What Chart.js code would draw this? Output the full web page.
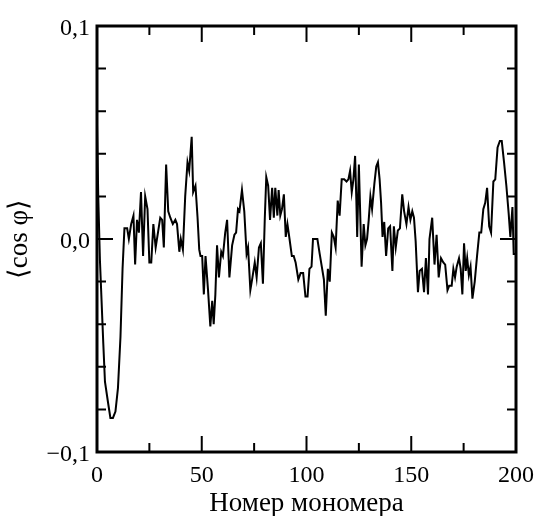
<!DOCTYPE html>
<html>
<head>
<meta charset="utf-8">
<script src="https://cdn.jsdelivr.net/npm/chart.js@4/dist/chart.umd.min.js"></script>
<style>
    html, body { margin: 0; padding: 0; background: #fff; }
    #wrap { width: 543px; height: 516px; }
</style>
</head>
<body>
<div id="wrap"><canvas id="cosChart"></canvas></div>
<script>
// Номер мономера (ось X)
const monomerIndex = [
    0, 0.6, 1.4, 3.0, 3.8, 5.3, 6.4, 7.6, 8.8, 10.0, 11.2, 12.2, 13.1, 14.4, 15.2, 16.3, 17.4, 18.2, 19.1, 20.0,
    21.0, 22.0, 23.0, 24.1, 25.0, 25.9, 26.9, 28.0, 29.1, 30.2, 31.1, 31.9, 33.0, 34.0, 35.0, 36.2, 37.4, 38.2, 39.3, 40.0,
    41.0, 42.1, 43.2, 44.0, 45.2, 45.9, 47.0, 48.0, 48.8, 49.4, 50.2, 51.0, 51.8, 53.0, 54.1, 55.0, 55.7, 56.5, 57.3, 58.2,
    59.3, 60.1, 61.2, 62.1, 63.2, 64.5, 65.6, 66.4, 67.3, 68.0, 69.2, 70.3, 71.4, 72.1, 73.2, 74.2, 75.3, 76.2, 77.3, 78.2,
    79.2, 80.1, 80.8, 81.7, 82.6, 83.6, 84.4, 85.1, 86.1, 86.7, 87.5, 88.3, 89.2, 90.1, 90.9, 91.9, 93.0, 93.9, 94.8, 96.1,
    97.2, 98.4, 99.5, 100.5, 101.4, 102.4, 103.1, 104.2, 105.2, 106.3, 107.3, 108.3, 109.2, 110.2, 111.1, 112.1, 113.0, 113.9, 114.9, 115.8,
    116.8, 118.0, 119.1, 120.0, 120.8, 121.6, 122.4, 123.2, 123.8, 124.2, 125.0, 125.8, 126.3, 127.3, 128.1, 128.9, 129.7, 130.5, 131.3, 132.4,
    133.3, 134.1, 134.9, 135.6, 136.3, 137.1, 138.0, 139.0, 139.9, 141.0, 141.7, 142.6, 143.6, 144.6, 145.7, 146.6, 147.7, 148.7, 149.6, 150.5,
    151.3, 152.1, 153.2, 154.0, 155.1, 156.1, 157.0, 158.0, 158.7, 160.0, 161.1, 162.1, 163.1, 164.2, 165.3, 166.2, 167.3, 168.1, 169.3, 170.1,
    170.9, 171.7, 172.8, 173.6, 174.4, 175.2, 176.0, 176.7, 177.5, 178.3, 179.2, 180.3, 181.4, 182.5, 183.4, 184.4, 185.3, 186.2, 187.2, 188.1,
    189.2, 190.1, 191.2, 192.3, 193.2, 194.3, 195.4, 196.5, 197.3, 198.3, 198.9, 200
];

// <cos φ>
const cosValues = [
    0.054, 0.020, -0.010, -0.049, -0.067, -0.077, -0.084, -0.084, -0.081, -0.070, -0.046, -0.014, 0.005, 0.005, 0.000, 0.007, 0.011, -0.012, 0.009, 0.003,
    0.022, -0.008, 0.020, 0.014, -0.011, -0.011, 0.007, -0.004, 0.003, 0.010, 0.009, -0.004, 0.035, 0.013, 0.010, 0.007, 0.009, 0.007, -0.006, 0.000,
    -0.005, 0.020, 0.036, 0.032, 0.048, 0.022, 0.025, 0.010, -0.005, -0.008, -0.008, -0.026, -0.008, -0.024, -0.041, -0.029, -0.040, -0.026, -0.003, -0.018,
    -0.006, -0.008, 0.003, 0.009, -0.018, -0.003, 0.002, 0.003, 0.014, 0.013, 0.023, 0.013, -0.007, -0.004, -0.024, -0.018, -0.011, -0.018, -0.004, -0.002,
    -0.021, 0.010, 0.029, 0.025, 0.009, 0.024, 0.010, 0.024, 0.011, 0.023, 0.011, 0.014, 0.021, 0.001, 0.007, 0.000, -0.008, -0.008, -0.011, -0.019,
    -0.016, -0.016, -0.027, -0.027, -0.014, -0.013, 0.000, 0.000, 0.000, -0.007, -0.013, -0.019, -0.036, -0.014, -0.020, 0.003, 0.001, -0.004, 0.018, 0.011,
    0.028, 0.028, 0.027, 0.028, 0.032, 0.022, 0.028, 0.039, 0.018, 0.001, 0.035, 0.006, -0.013, 0.007, -0.003, 0.000, 0.009, 0.020, 0.014, 0.026,
    0.034, 0.036, 0.028, 0.017, 0.001, 0.008, -0.008, 0.005, 0.006, -0.015, 0.006, -0.004, 0.004, 0.005, 0.021, 0.013, 0.007, 0.015, 0.009, 0.013,
    0.010, -0.001, -0.025, -0.015, -0.014, -0.025, -0.009, -0.026, 0.000, 0.010, -0.012, 0.002, -0.018, -0.009, -0.011, -0.012, -0.024, -0.022, -0.022, -0.014,
    -0.018, -0.013, -0.009, -0.014, -0.026, -0.002, -0.015, -0.009, -0.017, -0.013, -0.028, -0.020, -0.008, 0.003, 0.003, 0.014, 0.017, 0.024, 0.006, 0.003,
    0.027, 0.028, 0.043, 0.046, 0.046, 0.036, 0.025, 0.012, 0.001, 0.015, -0.007, -0.007
];

// Засечки внутрь рамки
const xMajorTicks = [50, 100, 150];
const xMinorTicks = [25, 75, 125, 175];
const yMajorTicks = [0];
const yMinorTicks = [-0.08, -0.06, -0.04, -0.02, 0.02, 0.04, 0.06, 0.08];

const serif = "'Liberation Serif', 'Times New Roman', serif";

// Рисует рамку и засечки на всех четырёх сторонах
const frameTicks = {
    id: 'frameTicks',
    afterDraw(chart) {
        const { ctx, chartArea: a, scales: { x, y } } = chart;
        ctx.save();
        ctx.strokeStyle = '#000';
        ctx.lineWidth = 2;
        ctx.beginPath();
        const xTick = (v, len) => {
            const px = x.getPixelForValue(v);
            ctx.moveTo(px, a.bottom); ctx.lineTo(px, a.bottom - len);
            ctx.moveTo(px, a.top); ctx.lineTo(px, a.top + len);
        };
        const yTick = (v, len) => {
            const py = y.getPixelForValue(v);
            ctx.moveTo(a.left, py); ctx.lineTo(a.left + len, py);
            ctx.moveTo(a.right, py); ctx.lineTo(a.right - len, py);
        };
        xMajorTicks.forEach(v => xTick(v, 16));
        xMinorTicks.forEach(v => xTick(v, 9));
        yMajorTicks.forEach(v => yTick(v, 16));
        yMinorTicks.forEach(v => yTick(v, 9));
        ctx.stroke();
        ctx.lineWidth = 3;
        ctx.strokeRect(a.left, a.top, a.right - a.left, a.bottom - a.top);
        ctx.restore();
    }
};

const formatTick = v => {
    if (Math.abs(v) < 1e-9) return '0,0';
    return (v < 0 ? '\u2212' : '') + Math.abs(v).toFixed(1).replace('.', ',');
};

new Chart(document.getElementById('cosChart'), {
    type: 'line',
    data: {
        datasets: [{
            data: monomerIndex.map((m, i) => ({ x: m, y: cosValues[i] })),
            borderColor: '#000',
            borderWidth: 2,
            pointRadius: 0,
            tension: 0,
            fill: false
        }]
    },
    options: {
        responsive: true,
        maintainAspectRatio: false,
        animation: false,
        layout: { padding: { top: 26, right: 20, bottom: 0, left: 0 } },
        plugins: { legend: { display: false }, tooltip: { enabled: false } },
        scales: {
            x: {
                type: 'linear',
                min: 0,
                max: 200,
                grid: { display: false, drawTicks: false },
                border: { display: false },
                ticks: {
                    stepSize: 50,
                    autoSkip: false,
                    maxRotation: 0,
                    padding: 9,
                    color: '#000',
                    font: { family: serif, size: 24 }
                },
                title: {
                    display: true,
                    text: 'Номер мономера',
                    color: '#000',
                    font: { family: serif, size: 27 },
                    padding: { top: 0, bottom: -4 }
                },
                afterFit(scale) { scale.height = 64; }
            },
            y: {
                min: -0.1,
                max: 0.1,
                grid: { display: false, drawTicks: false },
                border: { display: false },
                ticks: {
                    stepSize: 0.1,
                    padding: 7,
                    labelOffset: 3,
                    color: '#000',
                    font: { family: serif, size: 24 },
                    callback: formatTick
                },
                title: {
                    display: true,
                    text: '\u27E8cos \u03C6\u27E9',
                    color: '#000',
                    font: { family: serif, size: 27 },
                    padding: { top: 4, bottom: 0 }
                },
                afterFit(scale) { scale.width = 97; }
            }
        }
    },
    plugins: [frameTicks]
});
</script>
</body>
</html>
